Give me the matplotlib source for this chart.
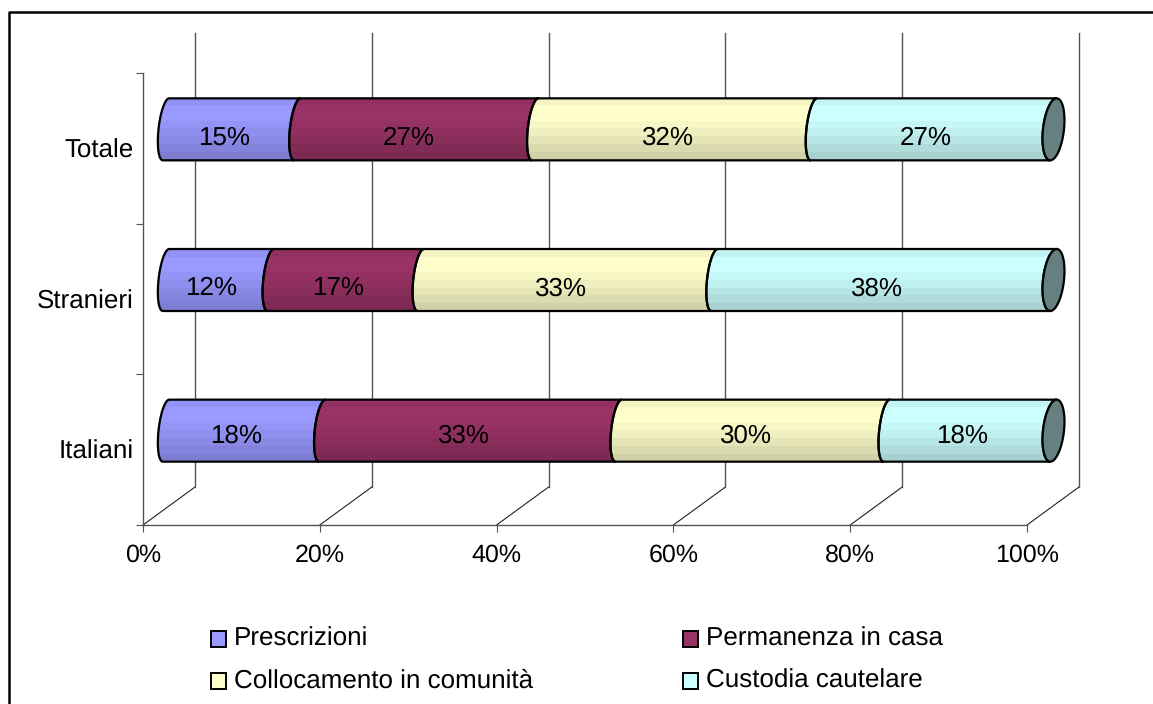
import numpy as np
import matplotlib
matplotlib.use("Agg")
import matplotlib.pyplot as plt
from matplotlib.legend_handler import HandlerPatch
from matplotlib.lines import Line2D
from matplotlib.patches import Patch, Polygon, Rectangle

plt.rcParams['font.family'] = ['Liberation Sans', 'DejaVu Sans']
plt.rcParams['text.hinting'] = 'no_hinting'
plt.rcParams['text.hinting_factor'] = 1

# Dati
categorie = ['Italiani', 'Stranieri', 'Totale']
serie = ['Prescrizioni', 'Permanenza in casa', 'Collocamento in comunità', 'Custodia cautelare']
valori = [
    [17.6, 11.8, 14.8],
    [33.4, 16.9, 26.8],
    [30.2, 33.1, 31.4],
    [18.8, 38.2, 27.0],
]
etichette = [
    ['18%', '12%', '15%'],
    ['33%', '17%', '27%'],
    ['30%', '33%', '32%'],
    ['18%', '38%', '27%'],
]
tick_x = [0, 20, 40, 60, 80, 100]
colori = ['#9999FF', '#993366', '#FFFFCC', '#CCFFFF']
colore_tappo = '#668080'

W, H = 1153, 704
PX_X = 8.84   # pixel per 1% sull'asse x
PX_Y = 452 / 3  # pixel per categoria

# Pareti 3D, espresse in unita' dei dati
prof_x = 52 / PX_X
prof_y = 38 / PX_Y
inizio_barra = 23 / PX_X
scala_barra = 887.5 / 884
mezza_altezza = 31 / PX_Y
arco = 7.5 / PX_X
arco_tappo = 10.5 / PX_X
sghembo = 3.2 / PX_X

# Bande orizzontali del riempimento, dall'alto in basso
bande = np.array([0.96, 1.0, 1.0, 0.97, 0.94, 0.90, 0.86, 0.82])

# Spostamento verticale delle etichette per riga, in punti
scarto_etichette = [-8.5, -11, -11]


def arco_sinistro(c, cy, a):
    t = np.linspace(np.pi / 2, 3 * np.pi / 2, 41)
    # in alto (t=pi/2) il bordo e' spostato a destra
    x = c + a * np.cos(t) + sghembo * np.sin(t)
    y = cy + mezza_altezza * np.sin(t)
    return x, y


def disegna_segmento(ax, x0, x1, cy, colore, a0, a1):
    xs, ys = arco_sinistro(x0, cy, a0)
    xe, ye = arco_sinistro(x1, cy, a1)
    verts = np.column_stack([np.r_[xs, xe[::-1]], np.r_[ys, ye[::-1]]])
    poly = Polygon(verts, closed=True, facecolor='none', edgecolor='black',
                   linewidth=1.6, zorder=4, clip_on=False)
    ax.add_patch(poly)
    rgb = np.array(matplotlib.colors.to_rgb(colore))
    img = (bande[:, None] * rgb)[:, None, :]
    im = ax.imshow(img, extent=[x0 - a0 - sghembo, x1 + sghembo, cy - mezza_altezza, cy + mezza_altezza],
                   aspect='auto', origin='upper', interpolation='nearest', zorder=3)
    clip = Polygon(verts, closed=True, transform=ax.transData)
    im.set_clip_path(clip)
    im.set_clip_box(ax.figure.bbox)


# Quadratino della legenda, un po' piu' basso del testo
def quadratino(legend, orig_handle, xdescent, ydescent, width, height, fontsize):
    return Rectangle((-xdescent, -ydescent - 2), width, height)


fig = plt.figure(figsize=(W / 100, H / 100), dpi=100)
ax = fig.add_axes([143 / W, 1 - 525 / H, 884 / W, 452 / H])

# Griglia sulla parete di fondo e diagonali del pavimento
for v in tick_x:
    ax.plot([v, v + prof_x], [0, prof_y], color='#222222', lw=0.8, clip_on=False, zorder=1)
    ax.plot([v + prof_x, v + prof_x], [prof_y, 3 + prof_y + 0.013], color='#555555', lw=1.0,
            clip_on=False, zorder=1)

# Barre cilindriche
for i in range(len(categorie)):
    cy = i + 0.5 + prof_y / 2
    cum = 0
    for s in range(len(serie)):
        v = valori[s][i]
        x0 = inizio_barra + cum * scala_barra
        x1 = inizio_barra + (cum + v) * scala_barra
        a1 = arco_tappo if s == len(serie) - 1 else arco
        disegna_segmento(ax, x0, x1, cy, colori[s], arco, a1)
        ax.annotate(etichette[s][i], ((x0 + x1) / 2, cy), xytext=(-5.5, scarto_etichette[i]),
                    textcoords='offset points', ha='center', va='baseline', fontsize=18.4,
                    color='black', zorder=6, annotation_clip=False)
        cum += v
    # tappo finale
    t = np.linspace(0, 2 * np.pi, 81)
    xc = x1 + arco_tappo * np.cos(t) + sghembo * np.sin(t)
    yc = cy + mezza_altezza * np.sin(t)
    ax.add_patch(Polygon(np.column_stack([xc, yc]), closed=True, facecolor=colore_tappo,
                         edgecolor='black', linewidth=1.6, zorder=5, clip_on=False))

ax.set_xlim(0, 100)
ax.set_ylim(0, 3)
ax.set_xticks(tick_x)
ax.set_xticklabels(['%d%%' % v for v in tick_x], fontsize=18.2)
ax.set_yticks([0, 1, 2, 3])
ax.set_yticklabels([])
ax.set_yticks([0.5, 1.5, 2.5], minor=True)
ax.set_yticklabels(categorie, minor=True, fontsize=18.8)
ax.tick_params(axis='y', which='minor', length=0, pad=7)
ax.tick_params(axis='y', which='major', length=5, width=0.8, color='#555555')
ax.tick_params(axis='x', length=5, width=0.8, color='#555555', pad=8.5)
for lato in ['top', 'right']:
    ax.spines[lato].set_visible(False)
for lato in ['left', 'bottom']:
    ax.spines[lato].set_color('#555555')
    ax.spines[lato].set_linewidth(1.0)
ax.patch.set_visible(False)

# Legenda
handles = [Patch(facecolor=c, edgecolor='black', linewidth=1.4) for c in colori]
ordine = [0, 2, 1, 3]
fig.legend([handles[i] for i in ordine], [serie[i] for i in ordine], ncols=2, frameon=False,
           fontsize=18.8, loc='upper left', bbox_to_anchor=(187 / W, 1 - 603 / H),
           handlelength=0.575, handleheight=0.575, handletextpad=0.306, labelspacing=0.69, columnspacing=5.76,
           handler_map={Patch: HandlerPatch(patch_func=quadratino)})

# Cornice del grafico
fig.add_artist(Line2D([8.5 / W, 8.5 / W, 1.0], [0, 1 - 12 / H, 1 - 12 / H], color='black', lw=1.8))

fig.savefig('out.png', dpi=100)
